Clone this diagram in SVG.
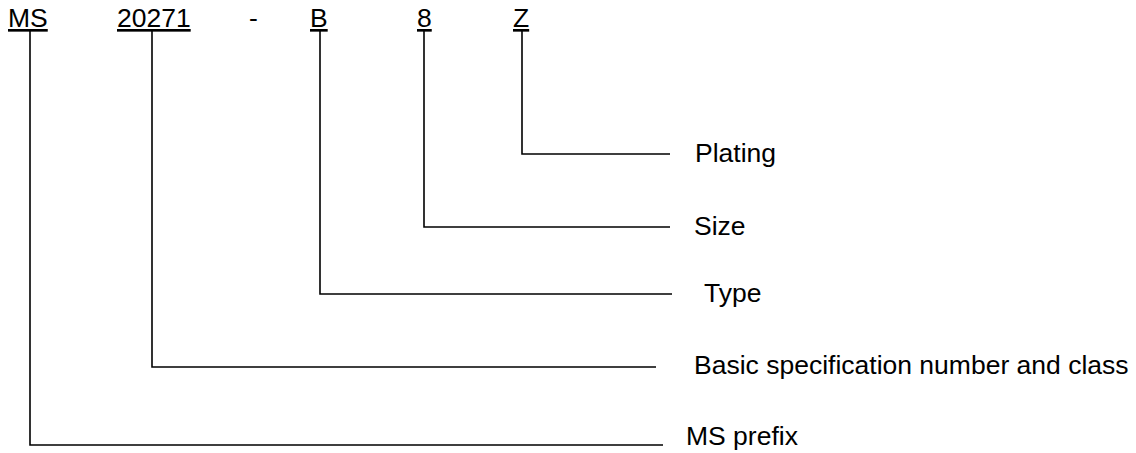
<svg xmlns="http://www.w3.org/2000/svg" width="1136" height="453" viewBox="0 0 1136 453">
<style>
text{font-family:"Liberation Sans",Arial,sans-serif;font-size:26.5px;fill:#000}
.u{text-decoration:underline}
.c{fill:none;stroke:#000;stroke-width:1.6}
</style>
<rect width="1136" height="453" fill="#fff"/>
<g id="code">
<text x="8" y="27" class="u">MS</text>
<text x="117" y="27" class="u">20271</text>
<text x="249" y="27">-</text>
<text x="310" y="27" class="u">B</text>
<text x="417" y="27" class="u">8</text>
<text x="513" y="27" class="u">Z</text>
</g>
<g id="connectors">
<polyline class="c" points="522,31 522,154 670,154"/>
<polyline class="c" points="424,31 424,227 670,227"/>
<polyline class="c" points="320,31 320,294 672,294"/>
<polyline class="c" points="152,31 152,367 656,367"/>
<polyline class="c" points="30,31 30,445 663,445"/>
</g>
<g id="plating"><text x="695" y="162">Plating</text></g>
<g id="size"><text x="694" y="235">Size</text></g>
<g id="type"><text x="704" y="302">Type</text></g>
<g id="basic"><text x="694" y="374">Basic specification number and class</text></g>
<g id="prefix"><text x="686" y="445">MS prefix</text></g>
</svg>
